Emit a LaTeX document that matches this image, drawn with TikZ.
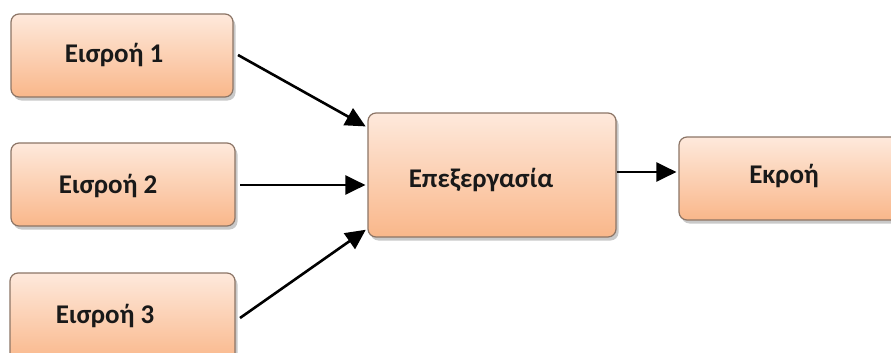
\documentclass[tikz,border=0pt]{standalone}
\usepackage{fontspec}
\setmainfont{Carlito}
\usetikzlibrary{arrows.meta,shadows}
\definecolor{topc}{HTML}{FEE9DC}
\definecolor{botc}{HTML}{F9B78A}
\definecolor{edgec}{HTML}{8C7566}
\tikzset{
  box/.style={draw=edgec, line width=1.2pt, rounded corners=8pt,
    top color=topc, bottom color=botc,
    drop shadow={shadow xshift=2.5pt, shadow yshift=-3.5pt, opacity=0.35, fill=black!60}},
  lbl/.style={font=\bfseries\fontsize{27}{31}\selectfont, text=black!90, inner sep=0pt},
  arr/.style={line width=2.6pt, -{Triangle[length=20pt,width=19pt]}, shorten >=2pt}
}
\begin{document}
\begin{tikzpicture}[x=1pt,y=-1pt]
\useasboundingbox (0,0) rectangle (891,353);
\clip (0,0) rectangle (891,353);
\fill[white] (0,0) rectangle (891,353);
% boxes
\node[box, minimum width=222pt, minimum height=83pt] (in1) at (122,55.5) {};
\node[box, minimum width=224pt, minimum height=83pt] (in2) at (123,184.5) {};
\node[box, minimum width=225pt, minimum height=90pt] (in3) at (122.5,318) {};
\node[box, minimum width=248pt, minimum height=124pt] (proc) at (492,175) {};
\node[box, minimum width=230pt, minimum height=83pt] (out) at (794,178.5) {};
% labels
\node[lbl] (t1) at (114,55) {Εισροή 1};
\node[lbl] (t2) at (108,186) {Εισροή 2};
\node[lbl] (t3) at (105,316) {Εισροή 3};
\node[lbl] (tp) at (481,180) {Επεξεργασία};
\node[lbl] (to) at (784,176) {Εκροή};
% connectors
\coordinate (a1) at (238,55);
\coordinate (a2) at (240,185);
\coordinate (a3) at (240,318);
\draw[arr] (a1) -- ([yshift=-15pt]proc.north west);
\draw[arr] (a2) -- (proc.west |- a2);
\draw[arr] (a3) -- ([yshift=9pt]proc.south west);
\draw[arr] ([yshift=3pt]proc.east) -- ([yshift=6.5pt]out.west);
\end{tikzpicture}
\end{document}
